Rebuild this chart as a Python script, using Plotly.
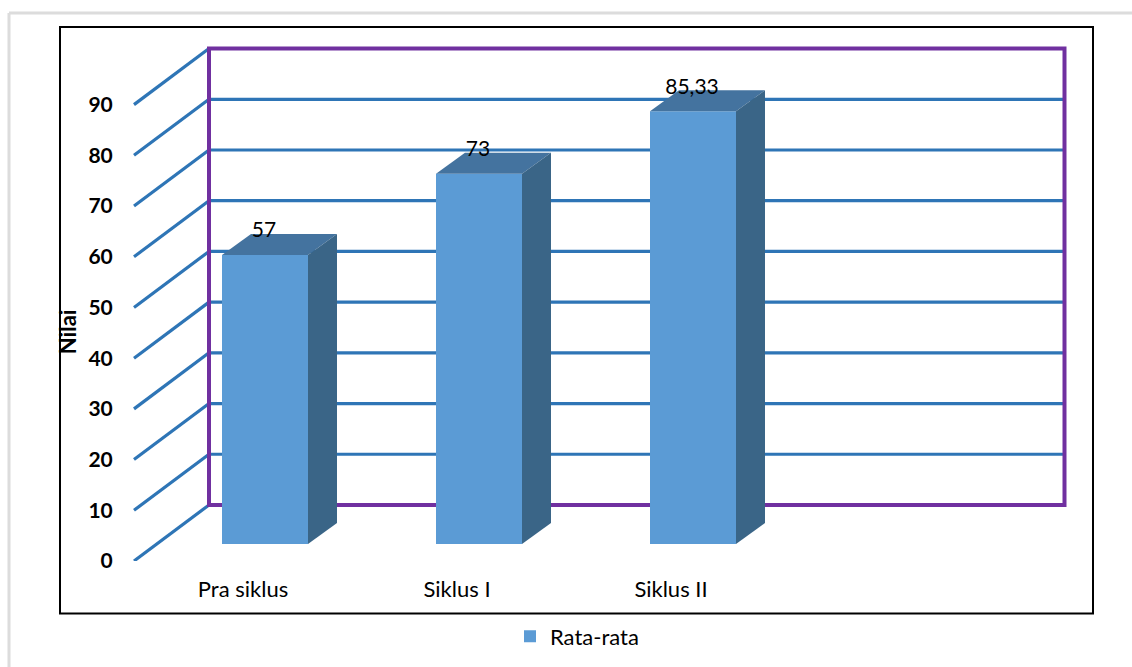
import plotly.graph_objects as go

categories = ["Pra siklus", "Siklus I", "Siklus II"]
values = [57, 73, 85.33]
value_labels = ["57", "73", "85,33"]
y_ticks = [0, 10, 20, 30, 40, 50, 60, 70, 80, 90]
series_name = "Rata-rata"
axis_title = "Nilai"

# scale helpers (page pixels per axis unit)
W, H = 1132, 667
L, R, T, B = 126, 1076, 36, 560.6
PX_X = 214.0
PX_Y = 5.067
X0_PX = 265.0  # pixel of category 0 centre


def xv(dpx):
    return dpx / PX_X


def yv(dpx):
    return dpx / PX_Y


def px(p):
    return (p - L) / (R - L)


def py(p):
    return (B - p) / (B - T)


x_min = xv(L - X0_PX)
x_max = xv(R - X0_PX)
y_max = yv(B - T)
x_left = xv(134 - X0_PX)
x_right = xv(1064.5 - X0_PX)
wall_dx, wall_dy = xv(75), yv(56)
bar_w = xv(86)
bar_base = yv(17)
depth_dx, depth_dy = xv(29), yv(21)
positions = list(range(len(categories)))

FRONT, TOP, SIDE = "#5B9BD5", "#44739F", "#3A6587"
GRID, WALL = "#2E75B6", "#7030A0"
FONT = "Lato"

fig = go.Figure()
fig.add_trace(go.Bar(x=positions, y=values, base=bar_base, width=bar_w, name=series_name,
                     marker=dict(color=FRONT, line=dict(width=0)), showlegend=True))
for pos, val in zip(positions, values):
    xa, xb = pos - bar_w / 2, pos + bar_w / 2
    top = val + bar_base
    fig.add_trace(go.Scatter(
        x=[xa, xb, xb + depth_dx, xa + depth_dx, xa],
        y=[top, top, top + depth_dy, top + depth_dy, top],
        mode="lines", fill="toself", fillcolor=TOP, line=dict(width=0),
        showlegend=False, hoverinfo="skip"))
    fig.add_trace(go.Scatter(
        x=[xb, xb + depth_dx, xb + depth_dx, xb, xb],
        y=[bar_base, bar_base + depth_dy, top + depth_dy, top, bar_base],
        mode="lines", fill="toself", fillcolor=SIDE, line=dict(width=0),
        showlegend=False, hoverinfo="skip"))
fig.add_trace(go.Scatter(
    x=[p - xv(1) for p in positions], y=[v + bar_base + yv(23) for v in values], text=value_labels,
    mode="text", textposition="middle center", cliponaxis=False,
    textfont=dict(family=FONT, size=21, color="#000000"), showlegend=False, hoverinfo="skip"))

shapes = []
line_blue = dict(color=GRID, width=3.2)
for t in y_ticks:
    shapes.append(dict(type="line", xref="x", yref="y", layer="below", line=line_blue,
                       x0=x_left, y0=t, x1=x_left + wall_dx, y1=t + wall_dy))
    if t not in (y_ticks[0], y_ticks[-1]):
        shapes.append(dict(type="line", xref="x", yref="y", layer="below", line=line_blue,
                           x0=x_left + wall_dx, y0=t + wall_dy, x1=x_right, y1=t + wall_dy))
shapes.append(dict(type="rect", xref="x", yref="y", layer="below",
                   line=dict(color=WALL, width=4), fillcolor="rgba(0,0,0,0)",
                   x0=x_left + wall_dx, y0=y_ticks[0] + wall_dy,
                   x1=x_right, y1=y_ticks[-1] + wall_dy))
# chart frame and page frame
shapes.append(dict(type="rect", xref="paper", yref="paper", layer="below",
                   line=dict(color="#000000", width=2),
                   x0=px(60), x1=px(1093), y0=py(613), y1=py(27)))
shapes.append(dict(type="line", xref="paper", yref="paper", layer="below",
                   line=dict(color="#DCDCDC", width=3),
                   x0=px(9), x1=px(W), y0=py(13), y1=py(13)))
shapes.append(dict(type="line", xref="paper", yref="paper", layer="below",
                   line=dict(color="#DCDCDC", width=3),
                   x0=px(9), x1=px(9), y0=py(13), y1=py(H)))

fig.update_layout(
    width=W, height=H, margin=dict(l=L, r=W - R, t=T, b=H - B, autoexpand=False),
    paper_bgcolor="#FFFFFF", plot_bgcolor="rgba(0,0,0,0)",
    font=dict(family=FONT, size=22, color="#000000"),
    shapes=shapes,
    xaxis=dict(range=[x_min, x_max], tickvals=[p - xv(22) for p in positions], ticktext=categories,
               ticks="outside", ticklen=9, tickcolor="rgba(0,0,0,0)", showgrid=False, zeroline=False,
               showline=False, tickfont=dict(family=FONT, size=22, color="#000000"), fixedrange=True),
    yaxis=dict(range=[0, y_max], tickvals=y_ticks, ticks="outside", ticklen=8, tickcolor="rgba(0,0,0,0)",
               showgrid=False, zeroline=False, showline=False,
               tickfont=dict(family=FONT, size=21, color="#000000", weight="bold"), fixedrange=True),
    legend=dict(x=px(510), y=py(636), xanchor="left", yanchor="middle", orientation="h",
                font=dict(family=FONT, size=22, color="#000000"), bgcolor="rgba(0,0,0,0)"),
    annotations=[dict(text=axis_title, textangle=-90, xref="paper", yref="paper", x=px(67), y=py(332),
                      xanchor="center", yanchor="middle", showarrow=False,
                      font=dict(family=FONT, size=22, color="#000000", weight="bold"))],
)
fig.write_html("out.html", config=dict(displayModeBar=False),
               post_script="document.body.style.margin='0';document.body.style.overflow='hidden';")
